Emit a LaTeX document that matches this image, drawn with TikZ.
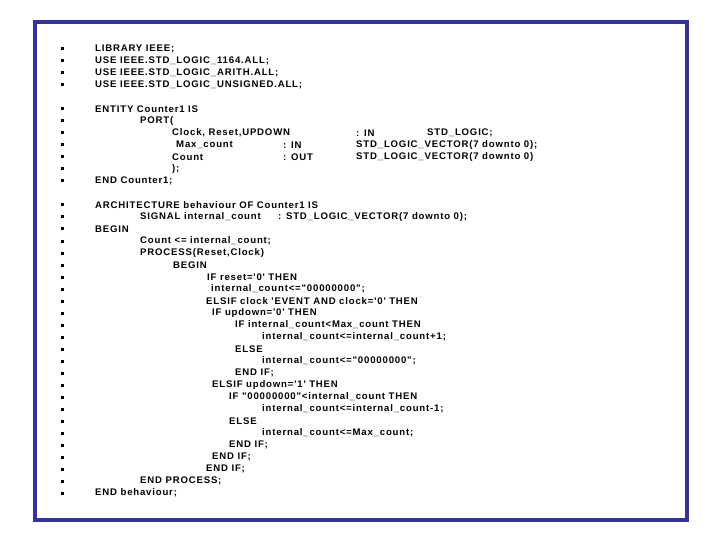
\documentclass[tikz,border=0pt]{standalone}
\usepackage{fontspec}
\newfontfamily\codef{Liberation Sans}[LetterSpace=8.5]
\definecolor{frame}{HTML}{333399}
\tikzset{codetxt/.style={anchor=west,inner sep=0pt,font=\codef\bfseries\fontsize{9.6}{11}\selectfont}}
\newcommand\cl[3]{\fill (62,#2) ++(-1.5,-1.5) rectangle ++(3,3);
  \node[codetxt] at (#1,#2) {#3};}
\newcommand\ct[3]{\node[codetxt] at (#1,#2) {#3};}
\begin{document}
\begin{tikzpicture}[x=1pt,y=-1pt]
\useasboundingbox (0,0) rectangle (720,540);
\fill[white] (0,0) rectangle (720,540);
\draw[frame,line width=3.5pt] (35,22) rectangle (687,520);
\cl{95}{49}{LIBRARY IEEE;}
\cl{95}{61}{USE IEEE.STD\_LOGIC\_1164.ALL;}
\cl{95}{73}{USE IEEE.STD\_LOGIC\_ARITH.ALL;}
\cl{95}{85}{USE IEEE.STD\_LOGIC\_UNSIGNED.ALL;}
\cl{95}{109}{ENTITY Counter1 IS}
\cl{140}{121}{PORT(}
\cl{172}{133}{Clock, Reset,UPDOWN}
\ct{356}{133}{: IN}
\ct{427}{133}{STD\_LOGIC;}
\cl{176}{145}{Max\_count}
\ct{283}{145}{: IN}
\ct{356}{145}{STD\_LOGIC\_VECTOR(7 downto 0);}
\cl{172}{157}{Count}
\ct{283}{157}{: OUT}
\ct{356}{157}{STD\_LOGIC\_VECTOR(7 downto 0)}
\cl{172}{169}{);}
\cl{95}{181}{END Counter1;}
\cl{95}{205}{ARCHITECTURE behaviour OF Counter1 IS}
\cl{140}{217}{SIGNAL internal\_count}
\ct{278}{217}{: STD\_LOGIC\_VECTOR(7 downto 0);}
\cl{95}{229}{BEGIN}
\cl{140}{241}{Count <= internal\_count;}
\cl{140}{253}{PROCESS(Reset,Clock)}
\cl{173}{265}{BEGIN}
\cl{207}{277}{IF reset='0' THEN}
\cl{211}{289}{internal\_count<="00000000";}
\cl{206}{301}{ELSIF clock 'EVENT AND clock='0' THEN}
\cl{212}{313}{IF updown='0' THEN}
\cl{235}{325}{IF internal\_count<Max\_count THEN}
\cl{262}{337}{internal\_count<=internal\_count+1;}
\cl{235}{349}{ELSE}
\cl{262}{361}{internal\_count<="00000000";}
\cl{235}{373}{END IF;}
\cl{212}{385}{ELSIF updown='1' THEN}
\cl{229}{397}{IF "00000000"<internal\_count THEN}
\cl{262}{409}{internal\_count<=internal\_count-1;}
\cl{229}{421}{ELSE}
\cl{262}{433}{internal\_count<=Max\_count;}
\cl{229}{445}{END IF;}
\cl{212}{457}{END IF;}
\cl{206}{469}{END IF;}
\cl{140}{481}{END PROCESS;}
\cl{95}{493}{END behaviour;}
\end{tikzpicture}
\end{document}
